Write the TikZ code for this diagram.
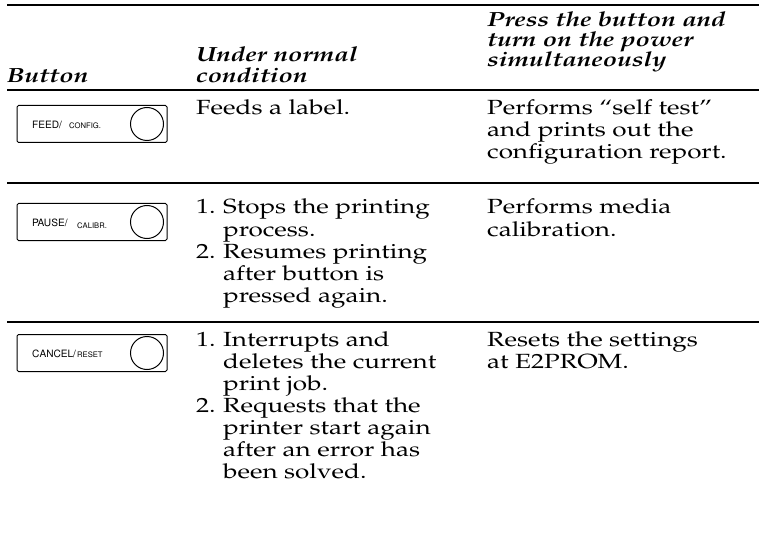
\documentclass[tikz,border=0pt]{standalone}
\usepackage[T1]{fontenc}
\usepackage{mathpazo}
\usepackage[scaled=0.92]{helvet}
\usepackage{graphicx}
\newcommand\sx[1]{\scalebox{1.27}[1]{#1}}
\begin{document}
\begin{tikzpicture}[x=1pt,y=-1pt,
  rule/.style={line width=1.2pt},
  txt/.style={anchor=base west,inner sep=0pt,font=\fontsize{20.5}{22}\selectfont},
  hdr/.style={anchor=base west,inner sep=0pt,font=\fontsize{20.5}{22}\selectfont\itshape\bfseries},
  btnbox/.style={draw,line width=1pt,rounded corners=1.5pt,minimum width=150pt,minimum height=37pt,inner sep=0pt},
  btncirc/.style={draw,line width=1pt,circle,minimum size=33pt,inner sep=0pt},
  big/.style={anchor=base west,inner sep=0pt,font=\sffamily\fontsize{11}{12}\selectfont},
  small/.style={anchor=base west,inner sep=0pt,font=\sffamily\fontsize{8.3}{9}\selectfont}]
\useasboundingbox (0,0) rectangle (759,537);
% rules
\coordinate (r0a) at (7,5);   \coordinate (r0b) at (759,5);
\coordinate (r1a) at (7,90);  \coordinate (r1b) at (759,90);
\coordinate (r2a) at (7,183); \coordinate (r2b) at (759,183);
\coordinate (r3a) at (7,322); \coordinate (r3b) at (759,322);
\draw[rule] (r0a) -- (r0b);
\draw[rule] (r1a) -- (r1b);
\draw[rule] (r2a) -- (r2b);
\draw[rule] (r3a) -- (r3b);
% header
\node[hdr] (h1) at (7,83) {\sx{Button}};
\node[hdr] (h2a) at (196,62) {\sx{Under normal}};
\node[hdr] (h2b) at (196,83) {\sx{condition}};
\node[hdr] (h3a) at (487,27) {\sx{Press the button and}};
\node[hdr] (h3b) at (487,47) {\sx{turn on the power}};
\node[hdr] (h3c) at (487,67) {\sx{simultaneously}};
% row 1
\node[btnbox] (b1) at (92,124) {};
\node[btncirc] (c1) at (147,124) {};
\node[big] (b1t) at (32,128.5) {FEED/};
\node[small] (b1s) at (69,128.5) {CONFIG.};
\node[txt] (t1) at (196,115) {\sx{Feeds a label.}};
\node[txt] (p1a) at (487,115) {\sx{Performs ``self test''}};
\node[txt] (p1b) at (487,137) {\sx{and prints out the}};
\node[txt] (p1c) at (487,159) {\sx{configuration report.}};
% row 2
\node[btnbox] (b2) at (92,222) {};
\node[btncirc] (c2) at (147,222) {};
\node[big] (b2t) at (32,226) {PAUSE/};
\node[small] (b2s) at (77,228) {CALIBR.};
\node[txt] (n2a) at (196,214) {\sx{1.}};
\node[txt] (t2a) at (223,214) {\sx{Stops the printing}};
\node[txt] (t2b) at (223,236) {\sx{process.}};
\node[txt] (n2b) at (196,258) {\sx{2.}};
\node[txt] (t2c) at (223,258) {\sx{Resumes printing}};
\node[txt] (t2d) at (223,280) {\sx{after button is}};
\node[txt] (t2e) at (223,302) {\sx{pressed again.}};
\node[txt] (p2a) at (487,214) {\sx{Performs media}};
\node[txt] (p2b) at (487,236) {\sx{calibration.}};
% row 3
\node[btnbox] (b3) at (92,353) {};
\node[btncirc] (c3) at (147,353) {};
\node[big] (b3t) at (32,357.5) {CANCEL/};
\node[small] (b3s) at (77,357.5) {RESET};
\node[txt] (n3a) at (196,346) {\sx{1.}};
\node[txt] (t3a) at (223,346) {\sx{Interrupts and}};
\node[txt] (t3b) at (223,368) {\sx{deletes the current}};
\node[txt] (t3c) at (223,390) {\sx{print job.}};
\node[txt] (n3b) at (196,412) {\sx{2.}};
\node[txt] (t3d) at (223,412) {\sx{Requests that the}};
\node[txt] (t3e) at (223,434) {\sx{printer start again}};
\node[txt] (t3f) at (223,456) {\sx{after an error has}};
\node[txt] (t3g) at (223,478) {\sx{been solved.}};
\node[txt] (p3a) at (487,346) {\sx{Resets the settings}};
\node[txt] (p3b) at (487,368) {\sx{at E2PROM.}};
\end{tikzpicture}
\end{document}
